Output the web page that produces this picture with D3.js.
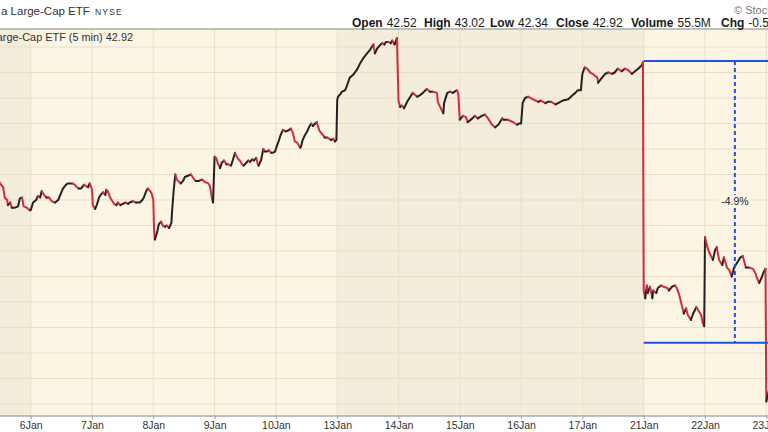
<!DOCTYPE html>
<html>
<head>
<meta charset="utf-8">
<script src="https://cdn.jsdelivr.net/npm/d3@7"></script>
<style>
  body { margin: 0; background: #fff; }
  svg { display: block; font-family: "Liberation Sans", Arial, sans-serif; }
</style>
</head>
<body>
<svg id="chart"></svg>
<script>
// Session labels and which week each one belongs to (for the shading)
const dayLabels = ["3Jan", "6Jan", "7Jan", "8Jan", "9Jan", "10Jan", "13Jan", "14Jan", "15Jan", "16Jan", "17Jan", "21Jan", "22Jan", "23Jan"];
const weekOfDay = [0, 1, 1, 1, 1, 1, 2, 2, 2, 2, 2, 3, 3, 3];
const barsPerDay = 78;

// 5 min closes, [bar of the session, price]
const jan03 = [[36, 44.17], [39, 44.13], [43, 44.10], [45, 44.02], [48, 44.00], [49, 43.96], [52, 43.98], [54, 43.94], [58, 43.94], [62, 43.95], [64, 44.01], [67, 44.02], [69, 43.95], [73, 43.94], [77, 43.92]];
const jan06 = [[0, 43.92], [3, 43.98], [7, 44.00], [9, 44.03], [12, 44.02], [14, 44.07], [17, 44.04], [20, 44.02], [23, 44.02], [27, 43.99], [31, 43.98], [35, 44.00], [37, 44.03], [41, 44.09], [45, 44.12], [47, 44.13], [53, 44.13], [56, 44.12], [59, 44.10], [61, 44.09], [64, 44.09], [68, 44.12], [70, 44.11], [73, 44.10], [75, 44.13], [77, 44.10]];
const jan07 = [[0, 44.08], [1, 43.96], [4, 43.93], [6, 43.96], [9, 44.02], [11, 44.04], [14, 44.06], [17, 44.04], [18, 44.08], [20, 44.07], [23, 44.02], [25, 44.00], [28, 43.97], [31, 43.96], [33, 43.98], [36, 43.96], [39, 43.97], [43, 43.98], [46, 43.97], [48, 43.98], [52, 43.99], [56, 43.98], [61, 43.98], [64, 44.00], [66, 44.02], [69, 44.07], [71, 44.09], [74, 44.07], [76, 44.05]];
const jan08 = [[0, 44.00], [1, 43.76], [2, 43.69], [5, 43.75], [7, 43.81], [10, 43.83], [12, 43.80], [15, 43.79], [17, 43.80], [20, 43.78], [23, 43.82], [24, 43.92], [26, 44.08], [28, 44.20], [30, 44.16], [33, 44.14], [35, 44.13], [38, 44.15], [40, 44.18], [44, 44.19], [48, 44.20], [51, 44.17], [54, 44.15], [58, 44.15], [62, 44.16], [66, 44.14], [70, 44.13], [72, 44.11], [73, 44.08], [75, 44.00], [76, 43.98]];
const jan09 = [[0, 44.34], [2, 44.33], [4, 44.29], [7, 44.25], [9, 44.29], [12, 44.31], [15, 44.28], [17, 44.28], [21, 44.27], [23, 44.31], [26, 44.37], [29, 44.33], [32, 44.31], [35, 44.28], [37, 44.27], [40, 44.29], [43, 44.31], [45, 44.30], [48, 44.32], [50, 44.31], [53, 44.33], [55, 44.28], [56, 44.27], [59, 44.31], [62, 44.40], [64, 44.38], [67, 44.38], [69, 44.39], [72, 44.37], [74, 44.37], [77, 44.38]];
const jan10 = [[0, 44.40], [1, 44.42], [4, 44.47], [6, 44.51], [9, 44.55], [12, 44.54], [14, 44.54], [17, 44.55], [19, 44.56], [22, 44.52], [24, 44.46], [27, 44.45], [29, 44.43], [31, 44.41], [32, 44.42], [34, 44.47], [37, 44.51], [40, 44.54], [42, 44.57], [45, 44.60], [47, 44.58], [50, 44.60], [52, 44.61], [55, 44.55], [57, 44.53], [60, 44.51], [62, 44.49], [65, 44.49], [68, 44.48], [70, 44.47], [73, 44.48], [75, 44.46], [77, 44.47]];
const jan13 = [[0, 44.78], [1, 44.81], [4, 44.83], [6, 44.85], [10, 44.86], [12, 44.89], [16, 44.96], [20, 44.98], [25, 45.02], [29, 45.07], [33, 45.11], [38, 45.15], [42, 45.18], [46, 45.22], [48, 45.15], [51, 45.19], [57, 45.23], [60, 45.22], [62, 45.24], [65, 45.24], [68, 45.23], [70, 45.25], [73, 45.22], [76, 45.27]];
const jan14 = [[0, 44.78], [2, 44.73], [4, 44.74], [7, 44.72], [11, 44.77], [15, 44.81], [18, 44.84], [24, 44.81], [27, 44.82], [31, 44.84], [36, 44.87], [40, 44.85], [44, 44.85], [49, 44.84], [50, 44.77], [53, 44.73], [57, 44.68], [58, 44.76], [62, 44.84], [66, 44.85], [69, 44.84], [74, 44.86], [76, 44.84]];
const jan15 = [[0, 44.63], [4, 44.66], [8, 44.65], [10, 44.61], [16, 44.64], [19, 44.66], [23, 44.64], [28, 44.66], [32, 44.67], [36, 44.64], [41, 44.59], [45, 44.57], [49, 44.59], [54, 44.64], [56, 44.63], [61, 44.63], [68, 44.61], [73, 44.59], [75, 44.60]];
const jan16 = [[0, 44.60], [2, 44.76], [5, 44.80], [9, 44.81], [15, 44.79], [22, 44.77], [25, 44.78], [28, 44.77], [31, 44.76], [34, 44.77], [38, 44.77], [41, 44.76], [44, 44.75], [47, 44.76], [53, 44.78], [60, 44.79], [65, 44.82], [69, 44.84], [72, 44.86], [76, 44.86]];
const jan17 = [[0, 44.99], [3, 45.04], [6, 45.03], [10, 45.00], [13, 44.99], [19, 44.96], [20, 44.92], [25, 44.96], [29, 44.99], [33, 45.00], [38, 44.99], [41, 45.00], [45, 45.03], [50, 45.01], [54, 45.03], [58, 45.02], [63, 44.99], [67, 45.01], [71, 45.03], [76, 45.06], [77, 45.08]];
const jan21 = [[0, 43.29], [2, 43.23], [4, 43.33], [5, 43.27], [8, 43.32], [11, 43.23], [12, 43.29], [16, 43.27], [18, 43.31], [22, 43.33], [25, 43.32], [30, 43.31], [32, 43.29], [36, 43.32], [40, 43.33], [42, 43.31], [45, 43.26], [49, 43.16], [51, 43.11], [54, 43.15], [56, 43.10], [60, 43.06], [63, 43.11], [67, 43.16], [69, 43.14], [73, 43.10], [75, 43.04], [77, 43.01]];
const jan22 = [[0, 43.71], [3, 43.63], [6, 43.58], [10, 43.53], [13, 43.61], [15, 43.63], [18, 43.53], [22, 43.49], [24, 43.55], [28, 43.47], [31, 43.45], [34, 43.40], [37, 43.47], [41, 43.51], [45, 43.55], [48, 43.56], [52, 43.47], [56, 43.47], [61, 43.46], [64, 43.43], [66, 43.39], [69, 43.35], [72, 43.39], [75, 43.44], [77, 43.46]];
const jan23 = [[0, 42.42], [3, 42.50]];
const sessions = [jan03, jan06, jan07, jan08, jan09, jan10, jan13, jan14, jan15, jan16, jan17, jan21, jan22, jan23];

// Price grid
const priceTicks = [42.4, 42.6, 42.8, 43.0, 43.2, 43.4, 43.6, 43.8, 44.0, 44.2, 44.4, 44.6, 44.8, 45.0, 45.2];

// Measure tool: from the 21Jan open, high and low level
const measureDay = "21Jan";
const measureMidDay = "22Jan";
const measureMidBar = 38;
const measureLevels = [45.09, 42.88];

// Quote header
const symbolName = "a Large-Cap ETF";
const exchange = "NYSE";
const legendText = "Large-Cap ETF (5 min) 42.92";
const quoteLabels = ["Open", "High", "Low", "Close", "Volume", "Chg"];
const quoteValues = ["42.52", "43.02", "42.34", "42.92", "55.5M", "-0.5"];

// Dimensions
const width = 768, height = 432;
const plotTop = 29, plotBottom = 416;
const upColor = "#222222", downColor = "#d42a3e", blue = "#1f4fe8";

const svg = d3.select("#chart").attr("width", width).attr("height", height);

// index in dayLabels -> time axis (6Jan open = 0)
const dayT = (label) => dayLabels.indexOf(label) - 1;

const xScale = d3.scaleLinear()
    .domain([-1, 12])
    .range([-30.6, 766.3]);

const yScale = d3.scaleLinear()
    .domain([42.4, 45.2])
    .range([404, 47]);

svg.append("clipPath").attr("id", "plotClip")
    .append("rect").attr("x", 0).attr("y", plotTop).attr("width", width).attr("height", plotBottom - plotTop);

const plot = svg.append("g").attr("clip-path", "url(#plotClip)");

// Week shading
plot.selectAll("rect.band")
    .data(dayLabels)
    .enter()
    .append("rect")
    .attr("class", "band")
    .attr("x", (d, i) => xScale(i - 1))
    .attr("width", (d, i) => xScale(i === dayLabels.length - 1 ? i + 2 : i) - xScale(i - 1))
    .attr("y", plotTop)
    .attr("height", plotBottom - plotTop)
    .attr("fill", (d, i) => weekOfDay[i] % 2 === 0 ? "#f4eddc" : "#fcf5e4");

// Grid
plot.selectAll("line.hgrid")
    .data(priceTicks)
    .enter()
    .append("line")
    .attr("x1", 0).attr("x2", width)
    .attr("y1", d => yScale(d)).attr("y2", d => yScale(d))
    .attr("stroke", "#e7dfcb").attr("stroke-width", 1);

plot.selectAll("line.vgrid")
    .data(d3.range(0, 13))
    .enter()
    .append("line")
    .attr("x1", d => xScale(d)).attr("x2", d => xScale(d))
    .attr("y1", plotTop).attr("y2", plotBottom)
    .attr("stroke", "#e7dfcb").attr("stroke-width", 1);

// Price points
let points = [];
sessions.forEach((bars, i) => {
    bars.forEach(([bar, price]) => {
        points.push({ t: i - 1 + bar / barsPerDay, price: price });
    });
});

// group segments into runs of the same direction
let runs = [];
for (let i = 1; i < points.length; i++) {
    let up = points[i].price >= points[i - 1].price;
    let last = runs[runs.length - 1];
    if (last && last.up === up) {
        last.pts.push(points[i]);
    } else {
        runs.push({ up: up, pts: [points[i - 1], points[i]] });
    }
}

const line = d3.line()
    .x(d => xScale(d.t))
    .y(d => yScale(d.price));

plot.selectAll("path.price")
    .data(runs)
    .enter()
    .append("path")
    .attr("class", "price")
    .attr("d", d => line(d.pts))
    .attr("fill", "none")
    .attr("stroke", d => d.up ? upColor : downColor)
    .attr("stroke-width", 2)
    .attr("stroke-linejoin", "round")
    .attr("stroke-linecap", "round");

// Measure tool
const mStart = xScale(dayT(measureDay));
const mMid = xScale(dayT(measureMidDay) + measureMidBar / barsPerDay);

plot.selectAll("line.measure")
    .data(measureLevels)
    .enter()
    .append("line")
    .attr("x1", mStart).attr("x2", width + 10)
    .attr("y1", d => yScale(d)).attr("y2", d => yScale(d))
    .attr("stroke", blue).attr("stroke-width", 2);

plot.append("line")
    .attr("x1", mMid).attr("x2", mMid)
    .attr("y1", yScale(measureLevels[0])).attr("y2", yScale(measureLevels[1]))
    .attr("stroke", blue).attr("stroke-width", 2)
    .attr("stroke-dasharray", "4,3");

const pct = ((measureLevels[1] - measureLevels[0]) / measureLevels[0] * 100).toFixed(1) + "%";
const midY = (yScale(measureLevels[0]) + yScale(measureLevels[1])) / 2;
plot.append("rect")
    .attr("x", mMid - 16).attr("y", midY - 7)
    .attr("width", 32).attr("height", 13)
    .attr("fill", "#fcf5e4");
plot.append("text")
    .attr("x", mMid).attr("y", midY + 3.5)
    .attr("text-anchor", "middle")
    .attr("font-size", 10.5)
    .attr("fill", "#222")
    .text(pct);

// Legend inside plot
plot.append("text")
    .attr("x", 133).attr("y", 40.5)
    .attr("text-anchor", "end")
    .attr("font-size", 10.9)
    .attr("fill", "#333")
    .text(legendText);

// Frame
svg.append("line")
    .attr("x1", 0).attr("x2", width)
    .attr("y1", plotTop).attr("y2", plotTop)
    .attr("stroke", "#a6abab").attr("stroke-width", 1.5);

// X axis
let xAxis = d3.axisBottom(xScale)
    .tickValues(d3.range(0, 13))
    .tickFormat(d => dayLabels[d + 1])
    .tickSize(3);

let axisG = svg.append("g")
    .attr("transform", `translate(0, ${plotBottom})`)
    .call(xAxis);

axisG.select(".domain").remove();
axisG.selectAll(".tick line").attr("stroke", "#999");
axisG.selectAll(".tick text")
    .attr("font-size", 10.5)
    .attr("font-family", "Liberation Sans, Arial, sans-serif")
    .attr("fill", "#333");

svg.append("line")
    .attr("x1", 0).attr("x2", width)
    .attr("y1", plotBottom).attr("y2", plotBottom)
    .attr("stroke", "#a6abab").attr("stroke-width", 1.5);

// Header
svg.append("text")
    .attr("x", 1).attr("y", 15)
    .attr("font-size", 11.5)
    .attr("fill", "#333")
    .text(symbolName);

svg.append("text")
    .attr("x", 95).attr("y", 15)
    .attr("font-size", 8.5)
    .attr("letter-spacing", 1.2)
    .attr("fill", "#333")
    .text(exchange);

svg.append("text")
    .attr("x", 734).attr("y", 14)
    .attr("font-size", 11)
    .attr("fill", "#777")
    .text("© StockCharts.com");

const quoteX = [352, 424, 490, 556, 631, 721];
let quote = svg.selectAll("text.quote")
    .data(quoteLabels)
    .enter()
    .append("text")
    .attr("class", "quote")
    .attr("x", (d, i) => quoteX[i])
    .attr("y", 27)
    .attr("font-size", 12)
    .attr("fill", "#1a1a1a");

quote.append("tspan").attr("font-weight", "bold").text(d => d);
quote.append("tspan").attr("dx", 4).text((d, i) => quoteValues[i]);
</script>
</body>
</html>
